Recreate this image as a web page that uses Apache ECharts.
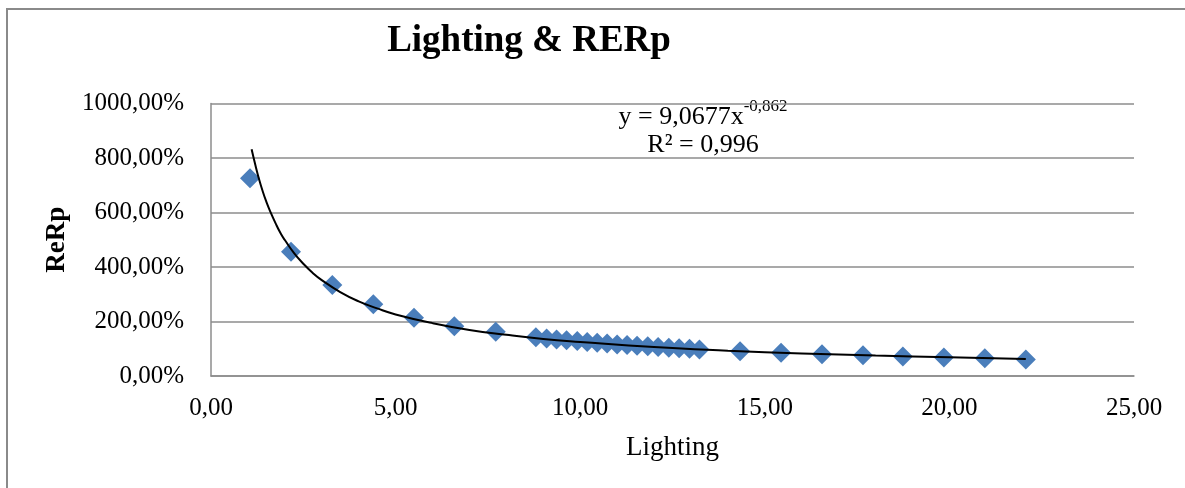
<!DOCTYPE html>
<html>
<head>
<meta charset="utf-8">
<script src="https://cdn.jsdelivr.net/npm/echarts@6/dist/echarts.min.js"></script>
<style>
  html, body { margin: 0; padding: 0; background: #ffffff; }
  #chart { width: 1185px; height: 488px; }
</style>
</head>
<body>
<div id="chart"></div>
<script>
// Observed points: Lighting (x) and ReRp in percent (y)
const lightingX = [1.056, 2.167, 3.286, 4.397, 5.498, 6.590, 7.712,
  8.80, 9.09, 9.36, 9.63, 9.92, 10.19, 10.46, 10.73, 11.00, 11.27, 11.54, 11.83, 12.11, 12.40, 12.68, 12.96, 13.23,
  14.33, 15.44, 16.55, 17.66, 18.74, 19.85, 20.96, 22.07];
const rerpY = [726, 456, 334, 263, 214, 183, 162,
  142, 138, 134, 131, 128, 125, 122, 119, 116, 114, 111, 109, 106, 104, 102, 100, 97,
  91, 85, 80, 76, 72, 68, 65, 61];

// Power trendline
const trendX = [1.1, 1.2, 1.3, 1.4, 1.5, 1.6, 1.75, 1.9, 2, 2.25, 2.5, 2.75, 3, 3.5, 4, 4.5, 5, 6, 7, 8, 9, 10, 12, 14, 16, 18, 20, 22.07];
const trendY = [832, 775, 723, 678, 639, 605, 560, 520, 499, 451, 412, 379, 352, 308, 274, 248, 226, 194, 169, 151, 136, 125, 106, 93, 83, 75, 69, 62];

const xTickLabels = ['0,00', '5,00', '10,00', '15,00', '20,00', '25,00'];
const yTickLabels = ['0,00%', '200,00%', '400,00%', '600,00%', '800,00%', '1000,00%'];

const titleText = 'Lighting & RERp';
const xName = 'Lighting';
const yName = 'ReRp';
const eqMain = 'y = 9,0677x';
const eqSup = '-0,862';
const eqR2 = 'R² = 0,996';

const scatterData = lightingX.map((x, i) => [x, rerpY[i]]);
const trendData = trendX.map((x, i) => [x, trendY[i]]);

const FONT = '"Liberation Serif", "Times New Roman", serif';
const chart = echarts.init(document.getElementById('chart'), null, { renderer: 'canvas' });

chart.setOption({
  animation: false,
  backgroundColor: '#ffffff',
  textStyle: { fontFamily: FONT },
  grid: { left: 211, right: 51, top: 103.5, bottom: 112, containLabel: false },
  xAxis: {
    type: 'value', min: 0, max: 25, interval: 5,
    name: xName, nameLocation: 'middle', nameGap: 58,
    nameTextStyle: { fontFamily: FONT, fontSize: 27, color: '#000' },
    axisLine: { show: true, lineStyle: { color: '#8c8c8c', width: 1.5 } },
    axisTick: { show: false },
    splitLine: { show: false },
    axisLabel: {
      fontFamily: FONT, fontSize: 25, color: '#000', margin: 20,
      formatter: v => xTickLabels[Math.round(v / 5)]
    }
  },
  yAxis: {
    type: 'value', min: 0, max: 1000, interval: 200,
    name: yName, nameLocation: 'middle', nameGap: 140,
    nameTextStyle: { fontFamily: FONT, fontSize: 27, fontWeight: 'bold', color: '#000' },
    axisLine: { show: true, lineStyle: { color: '#8c8c8c', width: 1.5 } },
    axisTick: { show: false },
    splitLine: { show: true, lineStyle: { color: '#8c8c8c', width: 1.5 } },
    axisLabel: {
      fontFamily: FONT, fontSize: 25, color: '#000', margin: 27,
      formatter: v => yTickLabels[Math.round(v / 200)]
    }
  },
  graphic: [
    {
      type: 'rect', silent: true, z: -1,
      shape: { x: 7, y: 9, width: 1200, height: 500 },
      style: { fill: 'none', stroke: '#8a8a8a', lineWidth: 2 }
    },
    {
      type: 'text', silent: true,
      x: 529, y: 41,
      style: {
        text: titleText,
        font: 'bold 37px ' + FONT, fill: '#000',
        textAlign: 'center', textVerticalAlign: 'middle'
      }
    },
    {
      type: 'text', silent: true,
      x: 703, y: 128,
      style: {
        text: '{a|' + eqMain + '}{s|' + eqSup + '}\n{a|' + eqR2 + '}',
        textAlign: 'center', textVerticalAlign: 'middle',
        rich: {
          a: { fontFamily: FONT, fontSize: 26, color: '#000', lineHeight: 28, verticalAlign: 'bottom' },
          s: { fontFamily: FONT, fontSize: 17, color: '#000', lineHeight: 32, verticalAlign: 'top' }
        }
      }
    }
  ],
  series: [
    {
      type: 'scatter', name: 'ReRp',
      data: scatterData,
      symbol: 'diamond', symbolSize: 20,
      itemStyle: { color: '#4a7ebb', opacity: 1 },
      z: 2
    },
    {
      type: 'line', name: 'Trend',
      data: trendData,
      smooth: true,
      showSymbol: false, symbol: 'none',
      lineStyle: { color: '#000', width: 2 },
      z: 3
    }
  ]
});
</script>
</body>
</html>
